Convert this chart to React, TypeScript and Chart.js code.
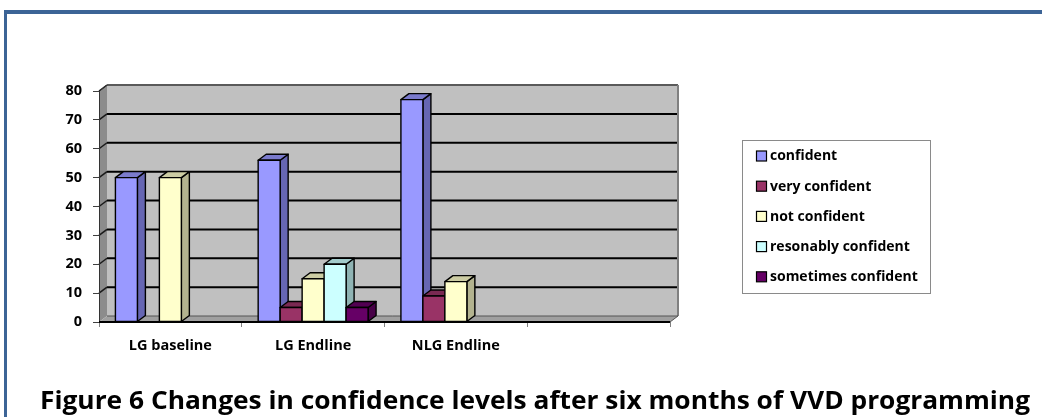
import React, { useEffect, useRef } from 'react';
import { Chart, registerables } from 'chart.js';

Chart.register(...registerables);

// ---- data ----
const categories = ['LG baseline', 'LG Endline', 'NLG Endline', ''];
const seriesNames = ['confident', 'very confident', 'not confident', 'resonably confident', 'sometimes confident'];
const confident = [50, 56, 77, null];
const veryConfident = [0, 5, 9, null];
const notConfident = [50, 15, 14, null];
const reasonablyConfident = [0, 20, 0, null];
const sometimesConfident = [0, 5, 0, null];
const yTickValues = [0, 10, 20, 30, 40, 50, 60, 70, 80];
const titleText = 'Figure 6 Changes in confidence levels after six months of VVD programming';

// ---- styles ----
const frontColors = ['#9999FF', '#993366', '#FFFFCC', '#CCFFFF', '#660066'];
const sideColors = ['#6666B3', '#6B2447', '#B3B38F', '#8FB3B3', '#470047'];
const topColors = ['#7A7ACC', '#7A2952', '#CCCCA3', '#A3CCCC', '#520052'];
const FONT = '"Open Sans", "Noto Sans", sans-serif';
const DX = 8;
const DY = 6;

const threeDPlugin = {
  id: 'threeD',
  beforeDatasetsDraw(chart: any) {
    const ctx = chart.ctx;
    const { left, right, top, bottom } = chart.chartArea;
    const yScale = chart.scales.y;
    ctx.save();
    // back wall
    ctx.fillStyle = '#C0C0C0';
    ctx.fillRect(left + DX, top - DY, right - left, bottom - top);
    // left wall
    ctx.fillStyle = '#8C8C8C';
    ctx.beginPath();
    ctx.moveTo(left, bottom);
    ctx.lineTo(left, top);
    ctx.lineTo(left + DX, top - DY);
    ctx.lineTo(left + DX, bottom - DY);
    ctx.closePath();
    ctx.fill();
    // floor
    ctx.fillStyle = '#A0A0A0';
    ctx.beginPath();
    ctx.moveTo(left, bottom);
    ctx.lineTo(right, bottom);
    ctx.lineTo(right + DX, bottom - DY);
    ctx.lineTo(left + DX, bottom - DY);
    ctx.closePath();
    ctx.fill();
    // gridlines
    yTickValues.forEach((v) => {
      const y = yScale.getPixelForValue(v);
      if (v === 0) return;
      ctx.strokeStyle = v === 80 ? '#5A5A5A' : '#000';
      ctx.lineWidth = 2;
      ctx.beginPath();
      ctx.moveTo(left + DX, y - DY);
      ctx.lineTo(right + DX, y - DY);
      ctx.stroke();
      ctx.lineWidth = 1.5;
      ctx.strokeStyle = '#1a1a1a';
      ctx.beginPath();
      ctx.moveTo(left, y);
      ctx.lineTo(left + DX, y - DY);
      ctx.stroke();
    });
    // right edge of back wall
    ctx.strokeStyle = '#808080';
    ctx.lineWidth = 2;
    ctx.beginPath();
    ctx.moveTo(right + DX, top - DY);
    ctx.lineTo(right + DX, bottom - DY);
    ctx.stroke();
    // left wall outline
    ctx.strokeStyle = '#333';
    ctx.lineWidth = 1;
    ctx.beginPath();
    ctx.moveTo(left + 0.5, bottom);
    ctx.lineTo(left + 0.5, top);
    ctx.lineTo(left + DX, top - DY);
    ctx.stroke();
    // floor edges
    ctx.strokeStyle = '#555';
    ctx.lineWidth = 1;
    ctx.beginPath();
    ctx.moveTo(left + DX, bottom - DY);
    ctx.lineTo(right + DX, bottom - DY);
    ctx.lineTo(right, bottom);
    ctx.stroke();
    ctx.strokeStyle = '#000';
    ctx.lineWidth = 2;
    ctx.beginPath();
    ctx.moveTo(left, bottom);
    ctx.lineTo(right, bottom);
    ctx.stroke();

    // bars
    const nCats = chart.data.labels.length;
    for (let j = 0; j < nCats; j++) {
      chart.data.datasets.forEach((ds: any, i: number) => {
        const v = ds.data[j];
        if (v === null || v === undefined || v === 0) return;
        const el = chart.getDatasetMeta(i).data[j];
        const p = el.getProps(['x', 'y', 'base', 'width'], true);
        const x0 = p.x - p.width / 2;
        const x1 = p.x + p.width / 2;
        const t = p.y;
        const b = p.base;
        ctx.lineWidth = 1.4;
        ctx.strokeStyle = '#000';
        ctx.lineJoin = 'round';
        // side
        ctx.fillStyle = sideColors[i];
        ctx.beginPath();
        ctx.moveTo(x1, b);
        ctx.lineTo(x1 + DX, b - DY);
        ctx.lineTo(x1 + DX, t - DY);
        ctx.lineTo(x1, t);
        ctx.closePath();
        ctx.fill();
        ctx.stroke();
        // top
        ctx.fillStyle = topColors[i];
        ctx.beginPath();
        ctx.moveTo(x0, t);
        ctx.lineTo(x0 + DX, t - DY);
        ctx.lineTo(x1 + DX, t - DY);
        ctx.lineTo(x1, t);
        ctx.closePath();
        ctx.fill();
        ctx.stroke();
        // front
        ctx.fillStyle = frontColors[i];
        ctx.beginPath();
        ctx.rect(x0, t, x1 - x0, b - t);
        ctx.fill();
        ctx.stroke();
      });
    }
    ctx.restore();
    return false;
  },
  afterDraw(chart: any) {
    const ctx = chart.ctx;
    ctx.save();
    // frame
    ctx.fillStyle = '#3C6496';
    ctx.fillRect(4, 10, 1042, 4);
    ctx.fillRect(4, 10, 3, 417);
    // legend
    ctx.strokeStyle = '#8A8A8A';
    ctx.lineWidth = 1;
    ctx.strokeRect(742.5, 140.5, 188, 153);
    ctx.font = `bold 14px ${FONT}`;
    ctx.textBaseline = 'middle';
    ctx.textAlign = 'left';
    chart.data.datasets.forEach((ds: any, i: number) => {
      const cy = 156 + i * 30.2;
      ctx.fillStyle = frontColors[i];
      ctx.fillRect(756.5, cy - 5, 10, 10);
      ctx.strokeStyle = '#000';
      ctx.lineWidth = 1.2;
      ctx.strokeRect(756.5, cy - 5, 10, 10);
      ctx.fillStyle = '#000';
      ctx.fillText(ds.label, 770, cy + 0.5);
    });
    // title
    ctx.font = `bold 25px ${FONT}`;
    ctx.textBaseline = 'alphabetic';
    const w = ctx.measureText(titleText).width;
    ctx.translate(40, 409);
    ctx.scale(990 / w, 1);
    ctx.fillStyle = '#000';
    ctx.fillText(titleText, 0, 0);
    ctx.restore();
  },
};

export default function App() {
  const ref = useRef<HTMLCanvasElement | null>(null);
  useEffect(() => {
    if (!ref.current) return;
    const seriesData = [confident, veryConfident, notConfident, reasonablyConfident, sometimesConfident];
    const chart = new Chart(ref.current, {
      type: 'bar',
      data: {
        labels: categories,
        datasets: seriesNames.map((name, i) => ({
          label: name,
          data: seriesData[i],
          backgroundColor: frontColors[i],
          borderColor: '#000',
          borderWidth: 1,
          categoryPercentage: 0.77,
          barPercentage: 1,
        })),
      },
      options: {
        responsive: false,
        animation: false,
        events: [],
        layout: { padding: { left: 40, top: 91, right: 372, bottom: 55 } },
        plugins: {
          legend: { display: false },
          tooltip: { enabled: false },
          title: { display: false },
        },
        scales: {
          x: {
            afterFit: (s: any) => { s.height = 40; },
            grid: { display: true, drawOnChartArea: false, drawTicks: true, tickLength: 5, color: '#808080', offset: true },
            border: { display: false },
            ticks: { color: '#000', padding: 10, font: { family: FONT, size: 14.5, weight: 'bold' } },
          },
          y: {
            min: 0,
            max: 80,
            afterFit: (s: any) => { s.width = 59; },
            grid: { display: true, drawOnChartArea: false, drawTicks: true, tickLength: 6, color: '#404040' },
            border: { display: false },
            ticks: { stepSize: 10, color: '#000', padding: 11, font: { family: FONT, size: 14.5, weight: 'bold' } },
          },
        },
      },
      plugins: [threeDPlugin],
    });
    return () => chart.destroy();
  }, []);
  return (
    <canvas
      ref={ref}
      width={1042}
      height={417}
      style={{ position: 'absolute', left: 0, top: 0, width: 1042, height: 417, display: 'block' }}
    />
  );
}
